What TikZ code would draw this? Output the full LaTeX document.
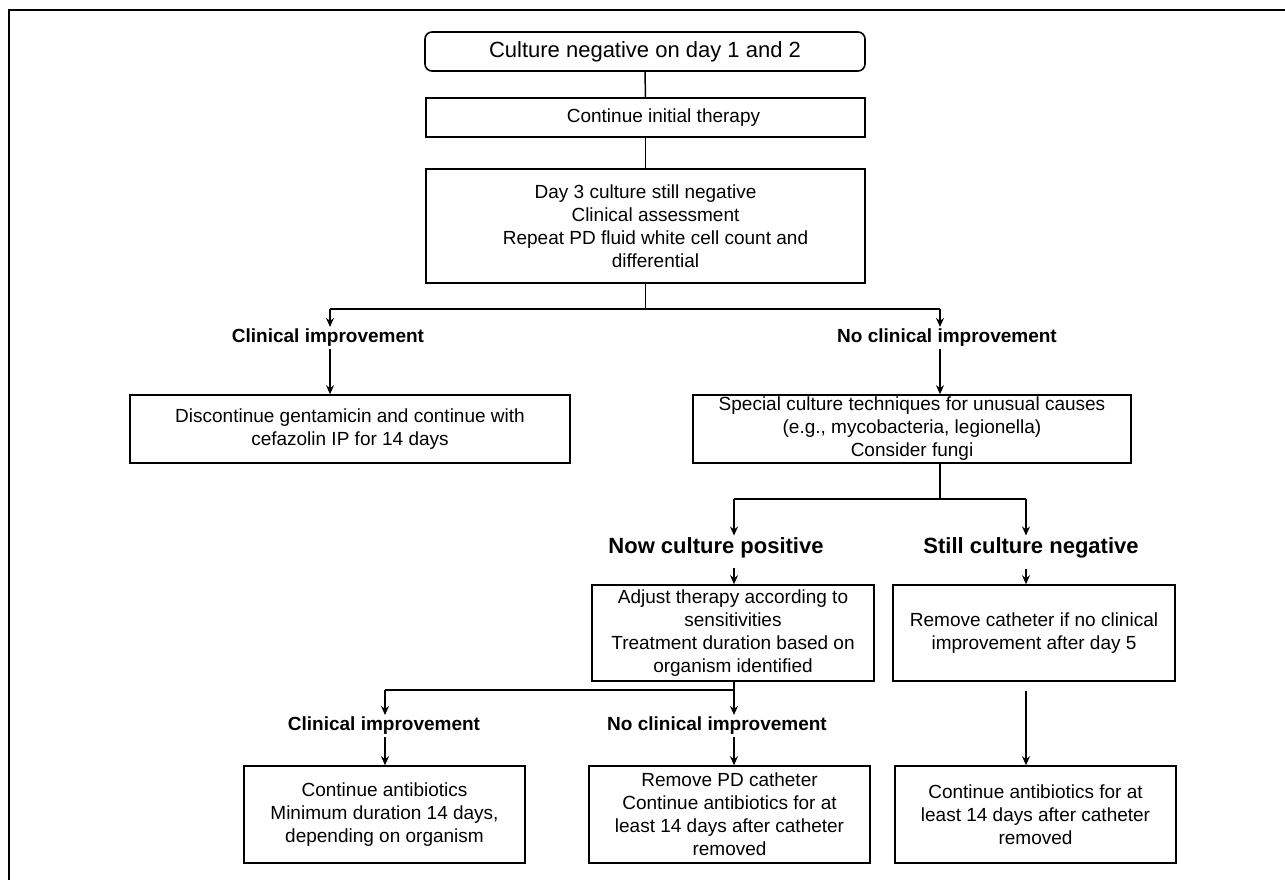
\documentclass[tikz,border=0pt]{standalone}
\usepackage{fontspec}
\setmainfont{Liberation Sans}
\usetikzlibrary{arrows.meta,calc}
\begin{document}
\begin{tikzpicture}[x=1pt,y=-1pt,
  box/.style={draw, line width=1.6pt, align=center, inner sep=0pt, font=\fontsize{19}{23}\selectfont},
  lbl/.style={font=\bfseries\fontsize{19}{23}\selectfont, inner sep=2pt},
  biglbl/.style={font=\bfseries\fontsize{22}{26}\selectfont, inner sep=2pt},
  conn/.style={line width=1.5pt},
  arr/.style={conn, -{Stealth[length=9pt,width=8pt]}}]
\useasboundingbox (0,0) rectangle (1285,880);
\draw[line width=2.8pt] (9,880) -- (9,10) -- (1285,10);

% top column
\node[box, rounded corners=7pt, minimum width=440pt, minimum height=39pt,
      font=\fontsize{22}{26}\selectfont] (start) at (645,51.5) {Culture negative on day 1 and 2};
\node[box, minimum width=439pt, minimum height=39pt] (cont) at (645.5,117.5) {\hspace*{36pt}Continue initial therapy};
\node[box, minimum width=439pt, minimum height=114pt] (day3) at (645.5,226)
  {Day 3 culture still negative\\\hspace*{20pt}Clinical assessment\\\hspace*{20pt}Repeat PD fluid white cell count and\\\hspace*{20pt}differential};
\draw[conn] (start.south) -- (cont.north);
\draw[conn] (cont.south) -- (day3.north);

% first branch
\coordinate (b0) at (645.5,309);
\coordinate (bL) at (330,309);
\coordinate (bR) at (940,309);
\node[lbl] (ci1) at (328,338) {Clinical improvement};
\node[lbl] (nci1) at (947,338) {No clinical improvement};
\draw[conn] (day3.south) -- (b0);
\draw[conn] (bL) -- (bR);
\draw[arr] (bL) -- (bL |- ci1.north);
\draw[arr] (bR) -- (bR |- nci1.north);

\node[box, minimum width=440pt, minimum height=68pt] (disc) at (350,429)
  {Discontinue gentamicin and continue with\\cefazolin IP for 14 days};
\node[box, minimum width=438pt, minimum height=68pt] (spec) at (912,429)
  {Special culture techniques for unusual causes\\(e.g., mycobacteria, legionella)\\Consider fungi};
\draw[arr] (bL |- ci1.south) -- (bL |- disc.north);
\draw[arr] (bR |- nci1.south) -- (bR |- spec.north);

% second branch
\coordinate (c0) at (940,499);
\coordinate (cL) at (734,499);
\coordinate (cR) at (1026,499);
\node[biglbl] (pos) at (716,548) {Now culture positive};
\node[biglbl] (neg) at (1031,548) {Still culture negative};
\draw[conn] (bR |- spec.south) -- (c0);
\draw[conn] (cL) -- (cR);
\draw[arr] (cL) -- (cL |- pos.north);
\draw[arr] (cR) -- (cR |- neg.north);

\node[box, minimum width=282pt, minimum height=96pt] (adj) at (733,633)
  {Adjust therapy according to\\sensitivities\\Treatment duration based on\\organism identified};
\node[box, minimum width=282pt, minimum height=96pt] (rc) at (1034,633)
  {Remove catheter if no clinical\\improvement after day 5};
\draw[arr] ($(cL |- pos.south)+(0,8)$) -- (cL |- adj.north);
\draw[arr] ($(cR |- neg.south)+(0,8)$) -- (cR |- rc.north);

% third branch
\coordinate (d0) at (734,690);
\coordinate (dL) at (385,690);
\node[lbl] (ci2) at (384,726) {Clinical improvement};
\node[lbl] (nci2) at (717,726) {No clinical improvement};
\draw[conn] (cL |- adj.south) -- (d0);
\draw[conn] (dL) -- (d0);
\draw[arr] (dL) -- (dL |- ci2.north);
\draw[arr] (d0) -- (d0 |- nci2.north);

\node[box, minimum width=281pt, minimum height=97pt] (ca) at (384.5,814.5)
  {Continue antibiotics\\Minimum duration 14 days,\\depending on organism};
\node[box, minimum width=281pt, minimum height=97pt] (rpd) at (729.5,814.5)
  {Remove PD catheter\\Continue antibiotics for at\\least 14 days after catheter\\removed};
\node[box, minimum width=281pt, minimum height=97pt] (cab) at (1035.5,814.5)
  {Continue antibiotics for at\\least 14 days after catheter\\removed};
\draw[arr] (dL |- ci2.south) -- (dL |- ca.north);
\draw[arr] (d0 |- nci2.south) -- (d0 |- rpd.north);
\draw[arr] ($(cR |- rc.south)+(0,9)$) -- (cR |- cab.north);
\end{tikzpicture}
\end{document}
